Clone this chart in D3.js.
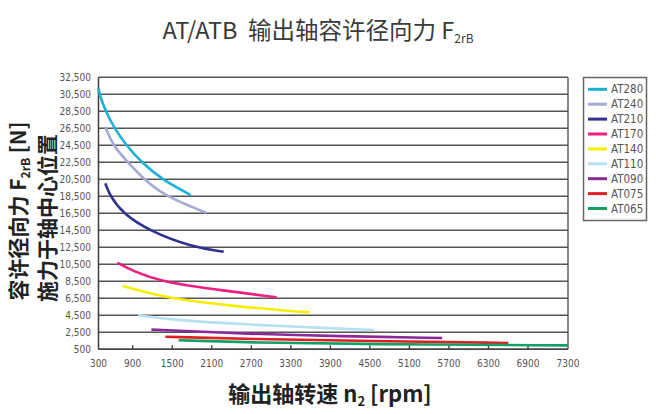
<!DOCTYPE html>
<html><head><meta charset="utf-8">
<script src="https://cdn.jsdelivr.net/npm/d3@7"></script>
<style>
body{margin:0;background:#fff;}
svg{display:block;}
.tick-label{font-family:"Liberation Sans Narrow","DejaVu Sans Condensed","Liberation Sans",sans-serif;font-size:10px;fill:#555;}
</style>
</head><body>
<svg id="chart" width="656" height="414"></svg>
<script>
// ---- data ----
const seriesNames = ["AT280","AT240","AT210","AT170","AT140","AT110","AT090","AT075","AT065"];
const seriesColors = ["#1cb0d8","#a4aad6","#2e3190","#ec1e7e","#f6ee00","#b4e0f2","#8a2a9a","#e21e24","#12a064"];
const AT280 = [[300,31200],[318,30500],[423,28500],[581,26500],[785,24500],[1032,22500],[1339,20500],[1780,18650]];
const AT240 = [[419,26690],[549,24500],[815,22500],[1072,20500],[1389,18500],[2022,16550]];
const AT210 = [[419,20030],[505,18500],[727,16500],[1132,14500],[1812,12500],[2282,11980]];
const AT170 = [[630,10690],[905,9700],[1315,8500],[2120,7560],[3083,6620]];
const AT140 = [[726,7950],[1412,6500],[2424,5590],[3300,5000],[3589,4850]];
const AT110 = [[980,4500],[1500,4000],[2100,3650],[2700,3400],[3870,2980],[4561,2770]];
const AT090 = [[1184,2820],[2700,2300],[4000,2050],[5598,1830]];
const AT075 = [[1397,1980],[2700,1710],[4500,1480],[6601,1240]];
const AT065 = [[1599,1560],[2700,1290],[4500,1100],[7300,960]];
const seriesData = [AT280,AT240,AT210,AT170,AT140,AT110,AT090,AT075,AT065];
const xTicks = [300,900,1500,2100,2700,3300,3900,4500,5100,5700,6300,6900,7300];
const yTicks = [500,2500,4500,6500,8500,10500,12500,14500,16500,18500,20500,22500,24500,26500,28500,30500,32500];

// ---- chart ----
const svg = d3.select("#chart");
const pLeft = 98.5, pRight = 568, pTop = 77.3, pBottom = 349.3;
const x = d3.scaleLinear().domain([300, 900, 6900, 7300]).range([pLeft, 132.7, 528, pRight]);
const y = d3.scaleLinear().domain([500, 32500]).range([pBottom, pTop]);

// title
const title = svg.append("text").attr("x", 318).attr("y", 39).attr("text-anchor", "middle")
  .style("font-family", "'Noto Sans CJK SC','Noto Sans',sans-serif").style("font-size", "23.5px").style("fill", "#3a3a3a");
title.append("tspan").text("AT/ATB\u00a0\u00a0输出轴容许径向力 F");
title.append("tspan").text("2rB").style("font-size", "12px").attr("dy", 4);

// grid lines
svg.append("g").selectAll("line").data(yTicks).join("line")
  .attr("x1", pLeft).attr("x2", pRight).attr("y1", d => y(d)).attr("y2", d => y(d))
  .attr("stroke", "#555").attr("stroke-width", 1.4);
// borders
svg.append("line").attr("x1", pLeft).attr("x2", pLeft).attr("y1", pTop).attr("y2", pBottom).attr("stroke", "#444").attr("stroke-width", 1.6);
svg.append("line").attr("x1", pRight).attr("x2", pRight).attr("y1", pTop).attr("y2", pBottom).attr("stroke", "#555").attr("stroke-width", 1.4);
svg.append("line").attr("x1", pLeft).attr("x2", pRight).attr("y1", pBottom).attr("y2", pBottom).attr("stroke", "#444").attr("stroke-width", 1.6);

// x ticks
svg.append("g").selectAll("line").data(xTicks.slice(1, -1)).join("line")
  .attr("x1", d => x(d)).attr("x2", d => x(d)).attr("y1", pBottom).attr("y2", pBottom - 4)
  .attr("stroke", "#444").attr("stroke-width", 1.4);
svg.append("g").selectAll("text").data(xTicks).join("text")
  .attr("class", "tick-label").attr("x", d => x(d)).attr("y", 367).attr("text-anchor", "middle").text(d => d);
// y tick labels
const fmt = d3.format(",");
svg.append("g").selectAll("text").data(yTicks).join("text")
  .attr("class", "tick-label").attr("x", 91).attr("y", d => y(d)).attr("dy", "0.35em").attr("text-anchor", "end").text(d => fmt(d));

// series lines
const line = d3.line().x(d => x(d[0])).y(d => y(d[1])).curve(d3.curveBasis);
svg.append("g").selectAll("path").data(seriesData).join("path")
  .attr("d", d => line(d)).attr("fill", "none")
  .attr("stroke", (d, i) => seriesColors[i]).attr("stroke-width", 2.6).attr("stroke-linecap", "butt");

// legend
const lg = svg.append("g");
lg.append("rect").attr("x", 583.5).attr("y", 77.5).attr("width", 63).attr("height", 143)
  .attr("fill", "#fff").attr("stroke", "#666").attr("stroke-width", 1.5);
const items = lg.selectAll("g.item").data(seriesNames).join("g").attr("class", "item")
  .attr("transform", (d, i) => `translate(0,${89.3 + i * 14.9})`);
items.append("line").attr("x1", 588).attr("x2", 607).attr("stroke", (d, i) => seriesColors[i]).attr("stroke-width", 3);
items.append("text").attr("class", "tick-label").style("font-size", "11.5px").attr("x", 611).attr("dy", "0.35em").text(d => d);

// y axis titles
const yt1 = svg.append("text").attr("transform", "translate(26,211) rotate(-90)").attr("text-anchor", "middle")
  .style("font-family", "'Noto Sans CJK SC',sans-serif").style("font-size", "21px").style("font-weight", "bold").style("fill", "#222");
yt1.append("tspan").text("容许径向力 F");
yt1.append("tspan").text("2rB").style("font-size", "12px").attr("dy", 4);
yt1.append("tspan").text(" [N]").attr("dy", -4);
svg.append("text").attr("transform", "translate(55,218) rotate(-90)").attr("text-anchor", "middle")
  .style("font-family", "'Noto Sans CJK SC',sans-serif").style("font-size", "21px").style("font-weight", "bold").style("fill", "#222")
  .text("施力于轴中心位置");

// x axis title
const xt = svg.append("text").attr("x", 330).attr("y", 402).attr("text-anchor", "middle")
  .style("font-family", "'Noto Sans CJK SC',sans-serif").style("font-size", "22px").style("font-weight", "bold").style("fill", "#222");
xt.append("tspan").text("输出轴转速 n");
xt.append("tspan").text("2").style("font-size", "13px").attr("dy", 4);
xt.append("tspan").text(" [rpm]").attr("dy", -4);
</script>
</body></html>
